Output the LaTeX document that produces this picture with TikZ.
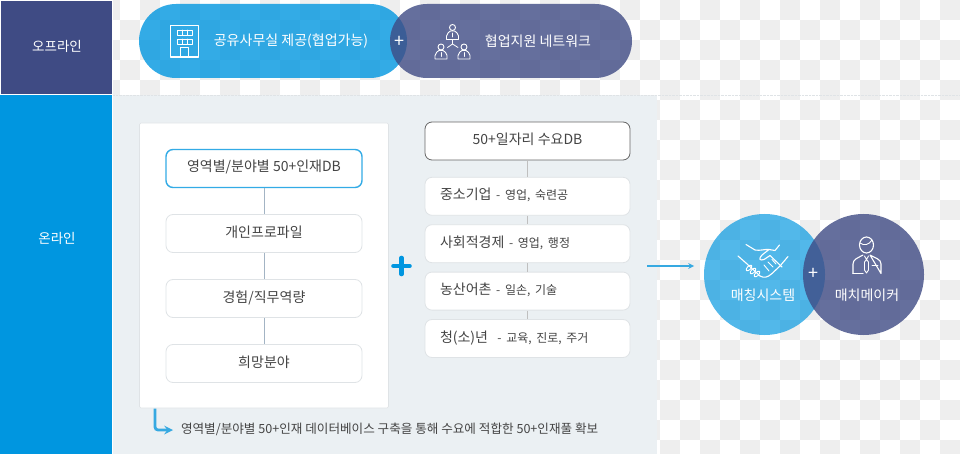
\documentclass[tikz,border=0pt]{standalone}
\usepackage{fontspec}
\setmainfont{Noto Sans CJK KR}
\definecolor{navybar}{HTML}{3F4B84}
\definecolor{bluebar}{HTML}{0096E0}
\definecolor{panelgray}{HTML}{EBF0F3}
\definecolor{checkgray}{HTML}{EEEEEE}
\definecolor{edgegray}{HTML}{DFE3E6}
\definecolor{inktext}{HTML}{444444}
\definecolor{stemline}{HTML}{A3B4C4}
\definecolor{arrowblue}{HTML}{36A9E1}

\tikzset{
	bartext/.style={text=white,font=\fontsize{13.5}{16}\selectfont},
	pilltext/.style={text=white,font=\fontsize{14}{16}\selectfont},
	pillblue/.style={fill=bluebar,fill opacity=.8,rounded corners=37pt,minimum width=268pt,minimum height=74pt},
	pillnavy/.style={fill=navybar,fill opacity=.8,rounded corners=37pt,minimum width=242pt,minimum height=74pt},
	roundblue/.style={circle,fill=bluebar,fill opacity=.68,minimum size=121pt},
	roundnavy/.style={circle,fill=navybar,fill opacity=.8,minimum size=121pt},
	% boxes of the two lists
	listbox/.style={draw=edgegray,line width=.8pt,fill=white,rounded corners=7pt,text=inktext,
		minimum height=38pt,text height=10pt,text depth=3pt,font=\fontsize{14}{16}\selectfont},
	leftbox/.style={listbox,minimum width=196pt},
	rightbox/.style={listbox,minimum width=205pt,text width=175pt,inner xsep=15pt,align=left},
	stem/.style={draw=stemline,line width=.7pt},
	iconline/.style={draw=white,line width=1.1pt,line join=round,line cap=round},
	% one small person of the network icon
	bust/.pic={
		\draw[iconline,line width=.9pt] (0,-5.5) circle (3);
		\draw[iconline,line width=.9pt] (-6,6.5) -- (-6,3) .. controls (-6,0) and (-3,-1) .. (-2,-2)
			-- (2,-2) .. controls (3,-1) and (6,0) .. (6,3) -- (6,6.5) -- cycle;
		\draw[iconline,line width=.9pt] (0,0) -- (0,4);
	}
}
\newcommand{\subtext}[1]{{\fontsize{12}{16}\selectfont #1}}

\begin{document}
\begin{tikzpicture}[
		x = 1pt, y = -1pt, % same units as the layout grid
		node distance = 65pt,
		> = stealth
	]

	\useasboundingbox (0,0) rectangle (960,454);

	% checker ground
	\foreach \col in {5,...,47}
		\foreach \row in {0,...,22}{
			\ifodd\numexpr\col+\row\relax
				\fill[checkgray] (\col*20,\row*20) rectangle ++(20,20);
			\fi
		}
	\fill[white] (0,0) rectangle (113,454);

	% left bars
	\fill[navybar] (1,1) rectangle (112,94);
	\fill[bluebar] (0,95) rectangle (112,454);
	\node[bartext] (offlinelabel) at (57,46.5) {오프라인};
	\node[bartext] (onlinelabel) at (57,238.5) {온라인};

	% online panel
	\fill[panelgray] (113,95) rectangle (657,454);
	\draw[edgegray,densely dotted] (113,95) -- (960,95);

	% offline pills
	\node[pillblue] (officepill) at (273,41) {};
	\node[pillnavy] (networkpill) at (511,41) {};
	\node[pilltext] (officetext) at (291,41) {공유사무실 제공(협업가능)};
	\node[pilltext] (networktext) at (538,41.5) {협업지원 네트워크};
	\node[text=white,font=\fontsize{18}{18}\selectfont] (offlineplus) at (399.5,41.5) {+};

	% building icon
	\draw[iconline] (170.5,25.5) rectangle (198.5,57);
	\draw[iconline,line width=.9pt] (177,30) rectangle (192.5,35) (182,30) -- (182,35) (187.5,30) -- (187.5,35);
	\draw[iconline,line width=.9pt] (177,39) rectangle (192.5,44) (182,39) -- (182,44) (187.5,39) -- (187.5,44);
	\draw[iconline] (180.5,57) -- (180.5,47.5) -- (188.5,47.5) -- (188.5,57);

	% network icon
	\pic at (452.5,33) {bust};
	\pic at (441,52.5) {bust};
	\pic at (464,52.5) {bust};
	\draw[iconline,line width=.8pt] (452.5,40) -- (452.5,44) -- (447.5,47.5) (452.5,44) -- (458,47.5);

	% talent list
	\fill[white,draw=edgegray,line width=.6pt,rounded corners=1.5pt] (139.5,123) rectangle (388.5,408);
	\node[leftbox,draw=bluebar!80,line width=1.4pt] (talentdb) at (264,168.5) {영역별/분야별 50+인재DB};
	\node[leftbox] (profile) [below of=talentdb] {개인프로파일};
	\node[leftbox] (career) [below of=profile] {경험/직무역량};
	\node[leftbox] (wish) [below of=career] {희망분야};

	\draw[stem] (talentdb) -- (profile);
	\draw[stem] (profile) -- (career);
	\draw[stem] (career) -- (wish);

	% demand list
	\begin{scope}[node distance=47.4pt]
		\node[listbox,minimum width=205pt,draw=black!60] (demanddb) at (527.5,141) {50+일자리 수요DB};
		\node[rightbox] (smallfirm) at (527.5,196.3) {중소기업 \subtext{- 영업, 숙련공}};
		\node[rightbox] (socialfirm) [below of=smallfirm] {사회적경제 \subtext{- 영업, 행정}};
		\node[rightbox] (village) [below of=socialfirm] {농산어촌 \subtext{- 일손, 기술}};
		\node[rightbox] (youth) [below of=village] {청(소)년 \ \subtext{- 교육, 진로, 주거}};
	\end{scope}

	\draw[stem,draw=black!25] (demanddb) -- (smallfirm);
	\draw[stem,draw=black!25] (smallfirm) -- (socialfirm);
	\draw[stem,draw=black!25] (socialfirm) -- (village);
	\draw[stem,draw=black!25] (village) -- (youth);

	% plus between the lists
	\coordinate (crossleft) at (393.5,266);
	\coordinate (crossright) at (409.5,266);
	\coordinate (crosstop) at (401.5,258);
	\coordinate (crossbottom) at (401.5,274);
	\draw[bluebar,line width=4.6pt,line cap=round] (crossleft) -- (crossright);
	\draw[bluebar,line width=4.6pt,line cap=round] (crosstop) -- (crossbottom);

	% note under the talent list
	\coordinate (notestart) at (155,408.5);
	\coordinate (noteend) at (173,430);
	\draw[->,arrowblue,line width=2.8pt,rounded corners=3pt] (notestart) |- (noteend);
	\node[anchor=west,text=inktext,font=\fontsize{12.6}{16}\selectfont] (notetext) at (177.5,429.5)
		{영역별/분야별 50+인재 데이터베이스 구축을 통해 수요에 적합한 50+인재풀 확보};

	% matching circles
	\coordinate (flowstart) at (647,266);
	\coordinate (flowend) at (694,266);
	\draw[->,arrowblue,line width=1.5pt] (flowstart) -- (flowend);

	\node[roundblue] (matchsystem) at (764.5,274.5) {};
	\node[roundnavy] (matchmaker) at (863.5,274.5) {};
	\node[pilltext] (systemtext) at (763,295) {매칭시스템};
	\node[pilltext] (makertext) at (867,295) {매치메이커};
	\node[text=white,font=\fontsize{18}{18}\selectfont] (matchplus) at (813.5,274) {+};

	% handshake icon
	\draw[iconline] (746,244.5) -- (755,250) .. controls (760,251) and (765,249) .. (769,249.5)
		-- (762,255) .. controls (758,259) and (760,261) .. (764,259.5) -- (770,255.5) -- (782,267);
	\draw[iconline] (769,249.5) -- (775,250.5) -- (779.5,245);
	\draw[iconline] (738,256) -- (746,263) -- (760,276) .. controls (764,278) and (767,278) .. (772,273.5)
		-- (780,266) -- (788,256.5);
	\draw[iconline,line width=.9pt,rotate around={45:(749,268)}] (749,268) ellipse (3.6 and 1.8);
	\draw[iconline,line width=.9pt,rotate around={45:(753,271)}] (753,271) ellipse (3.6 and 1.8);
	\draw[iconline,line width=.9pt,rotate around={45:(757,274)}] (757,274) ellipse (3.6 and 1.8);
	\draw[iconline,line width=.9pt] (768,262) -- (773,267) (772,259.5) -- (776,264) (764,265) -- (769,271);

	% matchmaker icon
	\draw[iconline] (866.5,245) ellipse (7 and 8);
	\draw[iconline,line width=.9pt] (860,243) .. controls (864,246) and (869,245) .. (872,240);
	\draw[iconline] (853,273.5) -- (853,264) .. controls (853,259) and (858,258) .. (863,255)
		(870,255) .. controls (875,258) and (881,259) .. (881,264) -- (881,273.5) -- cycle;
	\draw[iconline] (853,273.5) -- (863,273.5);
	\draw[iconline,line width=.9pt] (864.5,256) -- (866.5,259.5) -- (868.5,256) (866.5,259.5) -- (864.5,262) -- (864.5,270) -- (866.5,273) -- (868.5,270) -- (868.5,262) -- (866.5,259.5);
	\draw[iconline,line width=.9pt] (872,265.5) -- (878,265.5);
\end{tikzpicture}
\end{document}
